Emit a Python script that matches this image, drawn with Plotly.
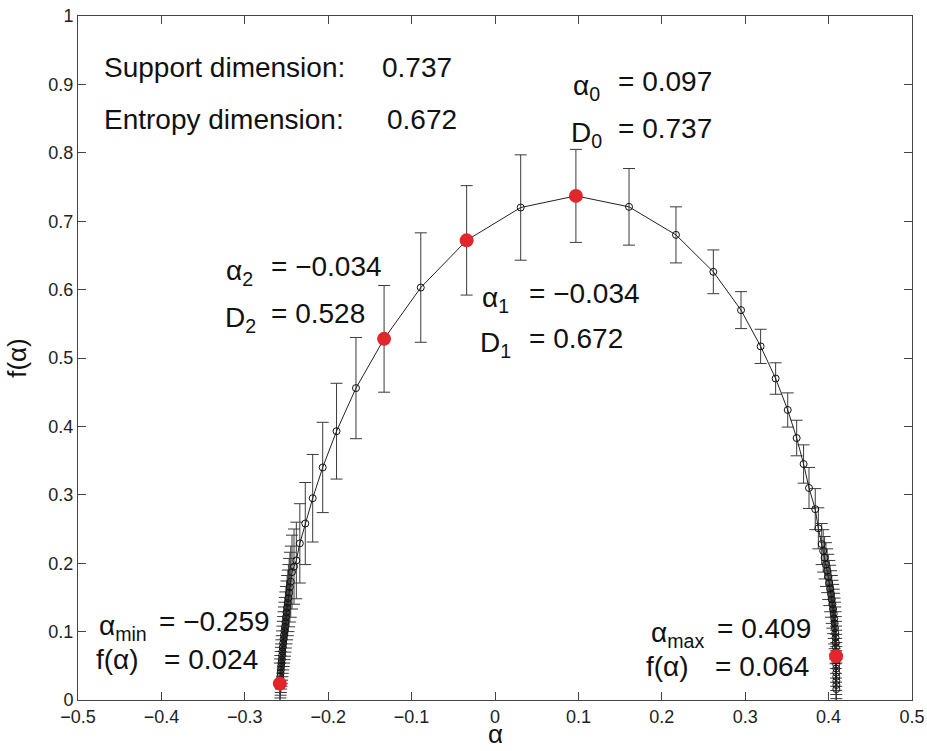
import plotly.graph_objects as go

# ---- data: multifractal spectrum f(alpha) with error bars ----
alpha = [-0.2580, -0.2577, -0.2574, -0.2571, -0.2568, -0.2565, -0.2561, -0.2557,
         -0.2553, -0.2549, -0.2545, -0.2540, -0.2535, -0.2530, -0.2525, -0.2519,
         -0.2513, -0.2507, -0.2500, -0.2493, -0.2485, -0.2477, -0.2468, -0.2459,
         -0.2449, -0.2434, -0.2410, -0.2382, -0.2340, -0.2275, -0.2186, -0.2066,
         -0.1900, -0.1667, -0.1330, -0.0890, -0.0340, 0.0308, 0.0970, 0.1607,
         0.2170, 0.2618, 0.2950, 0.3185, 0.3365, 0.3510, 0.3617, 0.3700,
         0.3765, 0.3840, 0.3877, 0.3917, 0.3935, 0.3952, 0.3968, 0.3983,
         0.3996, 0.4008, 0.4019, 0.4029, 0.4038, 0.4046, 0.4054, 0.4061,
         0.4067, 0.4072, 0.4076, 0.4080, 0.4083, 0.4086, 0.4088, 0.4089,
         0.4090, 0.4091, 0.4091, 0.4092, 0.4092, 0.4092, 0.4093, 0.4093,
         0.4093]
f_alpha = [0.024, 0.029, 0.034, 0.039, 0.044, 0.049, 0.054, 0.059,
           0.065, 0.071, 0.077, 0.083, 0.089, 0.095, 0.101, 0.107,
           0.114, 0.121, 0.128, 0.135, 0.142, 0.149, 0.157, 0.165,
           0.173, 0.187, 0.195, 0.204, 0.229, 0.258, 0.295, 0.340,
           0.393, 0.456, 0.528, 0.603, 0.672, 0.720, 0.737, 0.721,
           0.680, 0.626, 0.570, 0.517, 0.470, 0.424, 0.383, 0.345,
           0.310, 0.279, 0.251, 0.228, 0.218, 0.208, 0.198, 0.189,
           0.180, 0.171, 0.163, 0.155, 0.147, 0.140, 0.133, 0.126,
           0.119, 0.112, 0.105, 0.098, 0.091, 0.084, 0.077, 0.070,
           0.064, 0.058, 0.052, 0.046, 0.040, 0.034, 0.028, 0.022,
           0.016]
f_err = [0.030, 0.031, 0.031, 0.032, 0.033, 0.033, 0.034, 0.035,
         0.036, 0.037, 0.038, 0.039, 0.040, 0.041, 0.042, 0.043,
         0.044, 0.045, 0.046, 0.047, 0.048, 0.049, 0.050, 0.051,
         0.052, 0.054, 0.055, 0.056, 0.058, 0.060, 0.064, 0.066,
         0.070, 0.074, 0.078, 0.080, 0.080, 0.077, 0.068, 0.056,
         0.041, 0.032, 0.027, 0.025, 0.023, 0.025, 0.026, 0.028,
         0.030, 0.030, 0.030, 0.030, 0.031, 0.031, 0.032, 0.032,
         0.033, 0.033, 0.034, 0.034, 0.035, 0.035, 0.036, 0.036,
         0.037, 0.037, 0.038, 0.038, 0.038, 0.038, 0.038, 0.038,
         0.038, 0.038, 0.038, 0.038, 0.038, 0.038, 0.038, 0.038,
         0.038]

# highlighted points: alpha_min, alpha_2, alpha_1, alpha_0, alpha_max
alpha_special = [-0.2580, -0.1330, -0.0340, 0.0970, 0.4090]
f_special = [0.024, 0.528, 0.672, 0.737, 0.064]

x_ticks = [-0.5, -0.4, -0.3, -0.2, -0.1, 0, 0.1, 0.2, 0.3, 0.4, 0.5]
y_ticks = [0, 0.1, 0.2, 0.3, 0.4, 0.5, 0.6, 0.7, 0.8, 0.9, 1]

FONT = "Liberation Sans, Arial, Helvetica, sans-serif"

fig = go.Figure()
fig.add_trace(go.Scatter(
    x=alpha, y=f_alpha, mode="lines+markers",
    line=dict(color="#222222", width=1),
    marker=dict(symbol="circle-open", size=7, color="#111111", line=dict(width=1)),
    error_y=dict(type="data", array=f_err, visible=True, color="#3a3a3a",
                 thickness=1, width=6),
    showlegend=False, hoverinfo="skip"))
fig.add_trace(go.Scatter(
    x=alpha_special, y=f_special, mode="markers",
    marker=dict(symbol="circle", size=14, color="#e3262b"),
    showlegend=False, hoverinfo="skip"))

BIG = 28
def ann(text, x, y, size=BIG, yshift=0):
    fig.add_annotation(text=text, x=x, y=y, xref="x", yref="y", showarrow=False,
                       xanchor="left", yanchor="middle", yshift=yshift,
                       font=dict(family=FONT, size=size, color="#111111"))

# summary texts
ann("Support dimension:", -0.4712, 0.924)
ann("0.737", -0.138, 0.924)
ann("Entropy dimension:", -0.4712, 0.848)
ann("0.672", -0.132, 0.848)

# point labels (label part + value part)
SUBSHIFT = -6
ann("α<sub>0</sub>", 0.0911, 0.904, yshift=SUBSHIFT)
ann("= 0.097", 0.1451, 0.904)
ann("D<sub>0</sub>", 0.0887, 0.836, yshift=SUBSHIFT)
ann("= 0.737", 0.1451, 0.836)

ann("α<sub>2</sub>", -0.325, 0.6335, yshift=SUBSHIFT)
ann("= −0.034", -0.2706, 0.6335)
ann("D<sub>2</sub>", -0.3265, 0.5653, yshift=SUBSHIFT)
ann("= 0.528", -0.2706, 0.5653)

ann("α<sub>1</sub>", -0.018, 0.5946, yshift=SUBSHIFT)
ann("= −0.034", 0.038, 0.5946)
ann("D<sub>1</sub>", -0.020, 0.5288, yshift=SUBSHIFT)
ann("= 0.672", 0.038, 0.5288)

ann("α<sub>min</sub>", -0.4776, 0.1145, yshift=SUBSHIFT)
ann("= −0.259", -0.4057, 0.1145)
ann("f(α)", -0.4804, 0.0585)
ann("= 0.024", -0.3997, 0.0585)

ann("α<sub>max</sub>", 0.185, 0.1048, yshift=SUBSHIFT)
ann("= 0.409", 0.2638, 0.1048)
ann("f(α)", 0.179, 0.0487)
ann("= 0.064", 0.2618, 0.0487)

# x axis title (placed as paper annotation to keep it inside the canvas)
fig.add_annotation(text="α", x=0.5, y=-0.050, xref="paper", yref="paper",
                   showarrow=False, xanchor="center", yanchor="middle",
                   font=dict(family=FONT, size=26, color="#111111"))

axis_common = dict(showgrid=False, zeroline=False, showline=True, linecolor="#444444",
                   linewidth=1, mirror="ticks", ticks="inside", ticklen=8,
                   tickcolor="#444444", tickwidth=1, automargin=False,
                   tickfont=dict(family=FONT, size=18, color="#222222"))

fig.update_layout(
    width=927, height=751,
    margin=dict(l=78, r=15, t=16, b=51),
    paper_bgcolor="white", plot_bgcolor="white",
    xaxis=dict(range=[-0.5, 0.5], tickvals=x_ticks,
               ticktext=[("−" + str(abs(v))) if v < 0 else str(v) for v in x_ticks],
               **axis_common),
    yaxis=dict(range=[0, 1], tickvals=y_ticks,
               ticktext=[str(v) for v in y_ticks],
               title=dict(text="f(α)", font=dict(family=FONT, size=26, color="#111111"), standoff=14),
               **axis_common),
)

fig.write_html("out.html", config={"displayModeBar": False, "staticPlot": True},
               post_script="document.body.style.margin='0';document.body.style.overflow='hidden';")
